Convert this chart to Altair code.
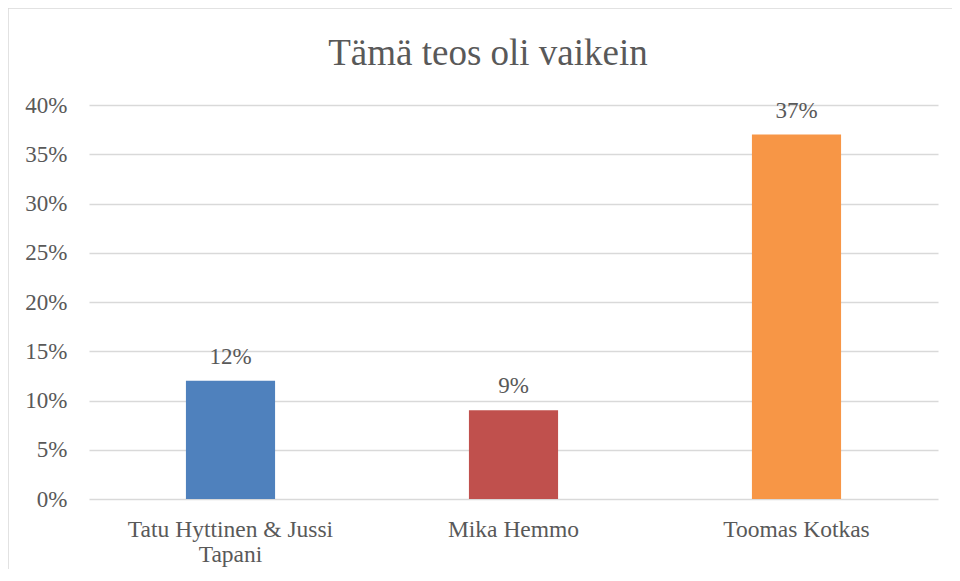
import altair as alt
import pandas as pd

categories = ["Tatu Hyttinen & Jussi Tapani", "Mika Hemmo", "Toomas Kotkas"]
values = [0.12, 0.09, 0.37]
colors = ["#4F81BD", "#C0504D", "#F79646"]
title_text = "Tämä teos oli vaikein"

df = pd.DataFrame({"cat": categories, "val": values})
FONT = "Liberation Serif"
TXT = "#595959"

x = alt.X("cat:N", sort=categories, title=None,
          scale=alt.Scale(paddingInner=0.685, paddingOuter=0.3425),
          axis=alt.Axis(labelAngle=0, labelFontSize=23.5, labelColor=TXT, labelFont=FONT,
                        labelPadding=18, labelLimit=400, labelLineHeight=25,
                        labelBaseline="top",
                        labelExpr="datum.label == 'Tatu Hyttinen & Jussi Tapani' ? ['Tatu Hyttinen & Jussi', 'Tapani'] : datum.label",
                        ticks=False, domain=False, grid=False))
y = alt.Y("val:Q", title=None,
          scale=alt.Scale(domain=[0, 0.4]),
          axis=alt.Axis(format=".0%", values=[0, 0.05, 0.1, 0.15, 0.2, 0.25, 0.3, 0.35, 0.4],
                        labelFontSize=23, labelColor=TXT, labelFont=FONT, labelPadding=22,
                        ticks=False, domain=False, gridColor="#D9D9D9", gridWidth=1.3))

bars = alt.Chart(df).mark_bar().encode(
    x=x, y=y,
    color=alt.Color("cat:N", scale=alt.Scale(domain=categories, range=colors), legend=None),
)
labels = alt.Chart(df).mark_text(baseline="alphabetic", dy=-17, fontSize=23, font=FONT, color=TXT).encode(
    x=alt.X("cat:N", sort=categories), y="val:Q", text=alt.Text("val:Q", format=".0%")
)
border = alt.Chart(pd.DataFrame({"a": [0]})).mark_rect(fill="transparent", stroke="#D9D9D9", strokeWidth=1.5).encode(
    x=alt.value(-81), x2=alt.value(880), y=alt.value(-97), y2=alt.value(500)
)
title = alt.Chart(pd.DataFrame({"t": [title_text]})).mark_text(
    baseline="alphabetic", align="center", fontSize=37, font=FONT, color=TXT
).encode(x=alt.value(399), y=alt.value(-40), text="t:N")

chart = alt.layer(border, bars, labels, title).properties(
    width=849, height=394,
    autosize=alt.AutoSizeParams(type="none"),
    padding={"left": 81, "top": 97, "right": 14, "bottom": 70},
).configure_view(stroke=None)

chart.save("out.html", embed_options={"renderer": "svg", "actions": False})
